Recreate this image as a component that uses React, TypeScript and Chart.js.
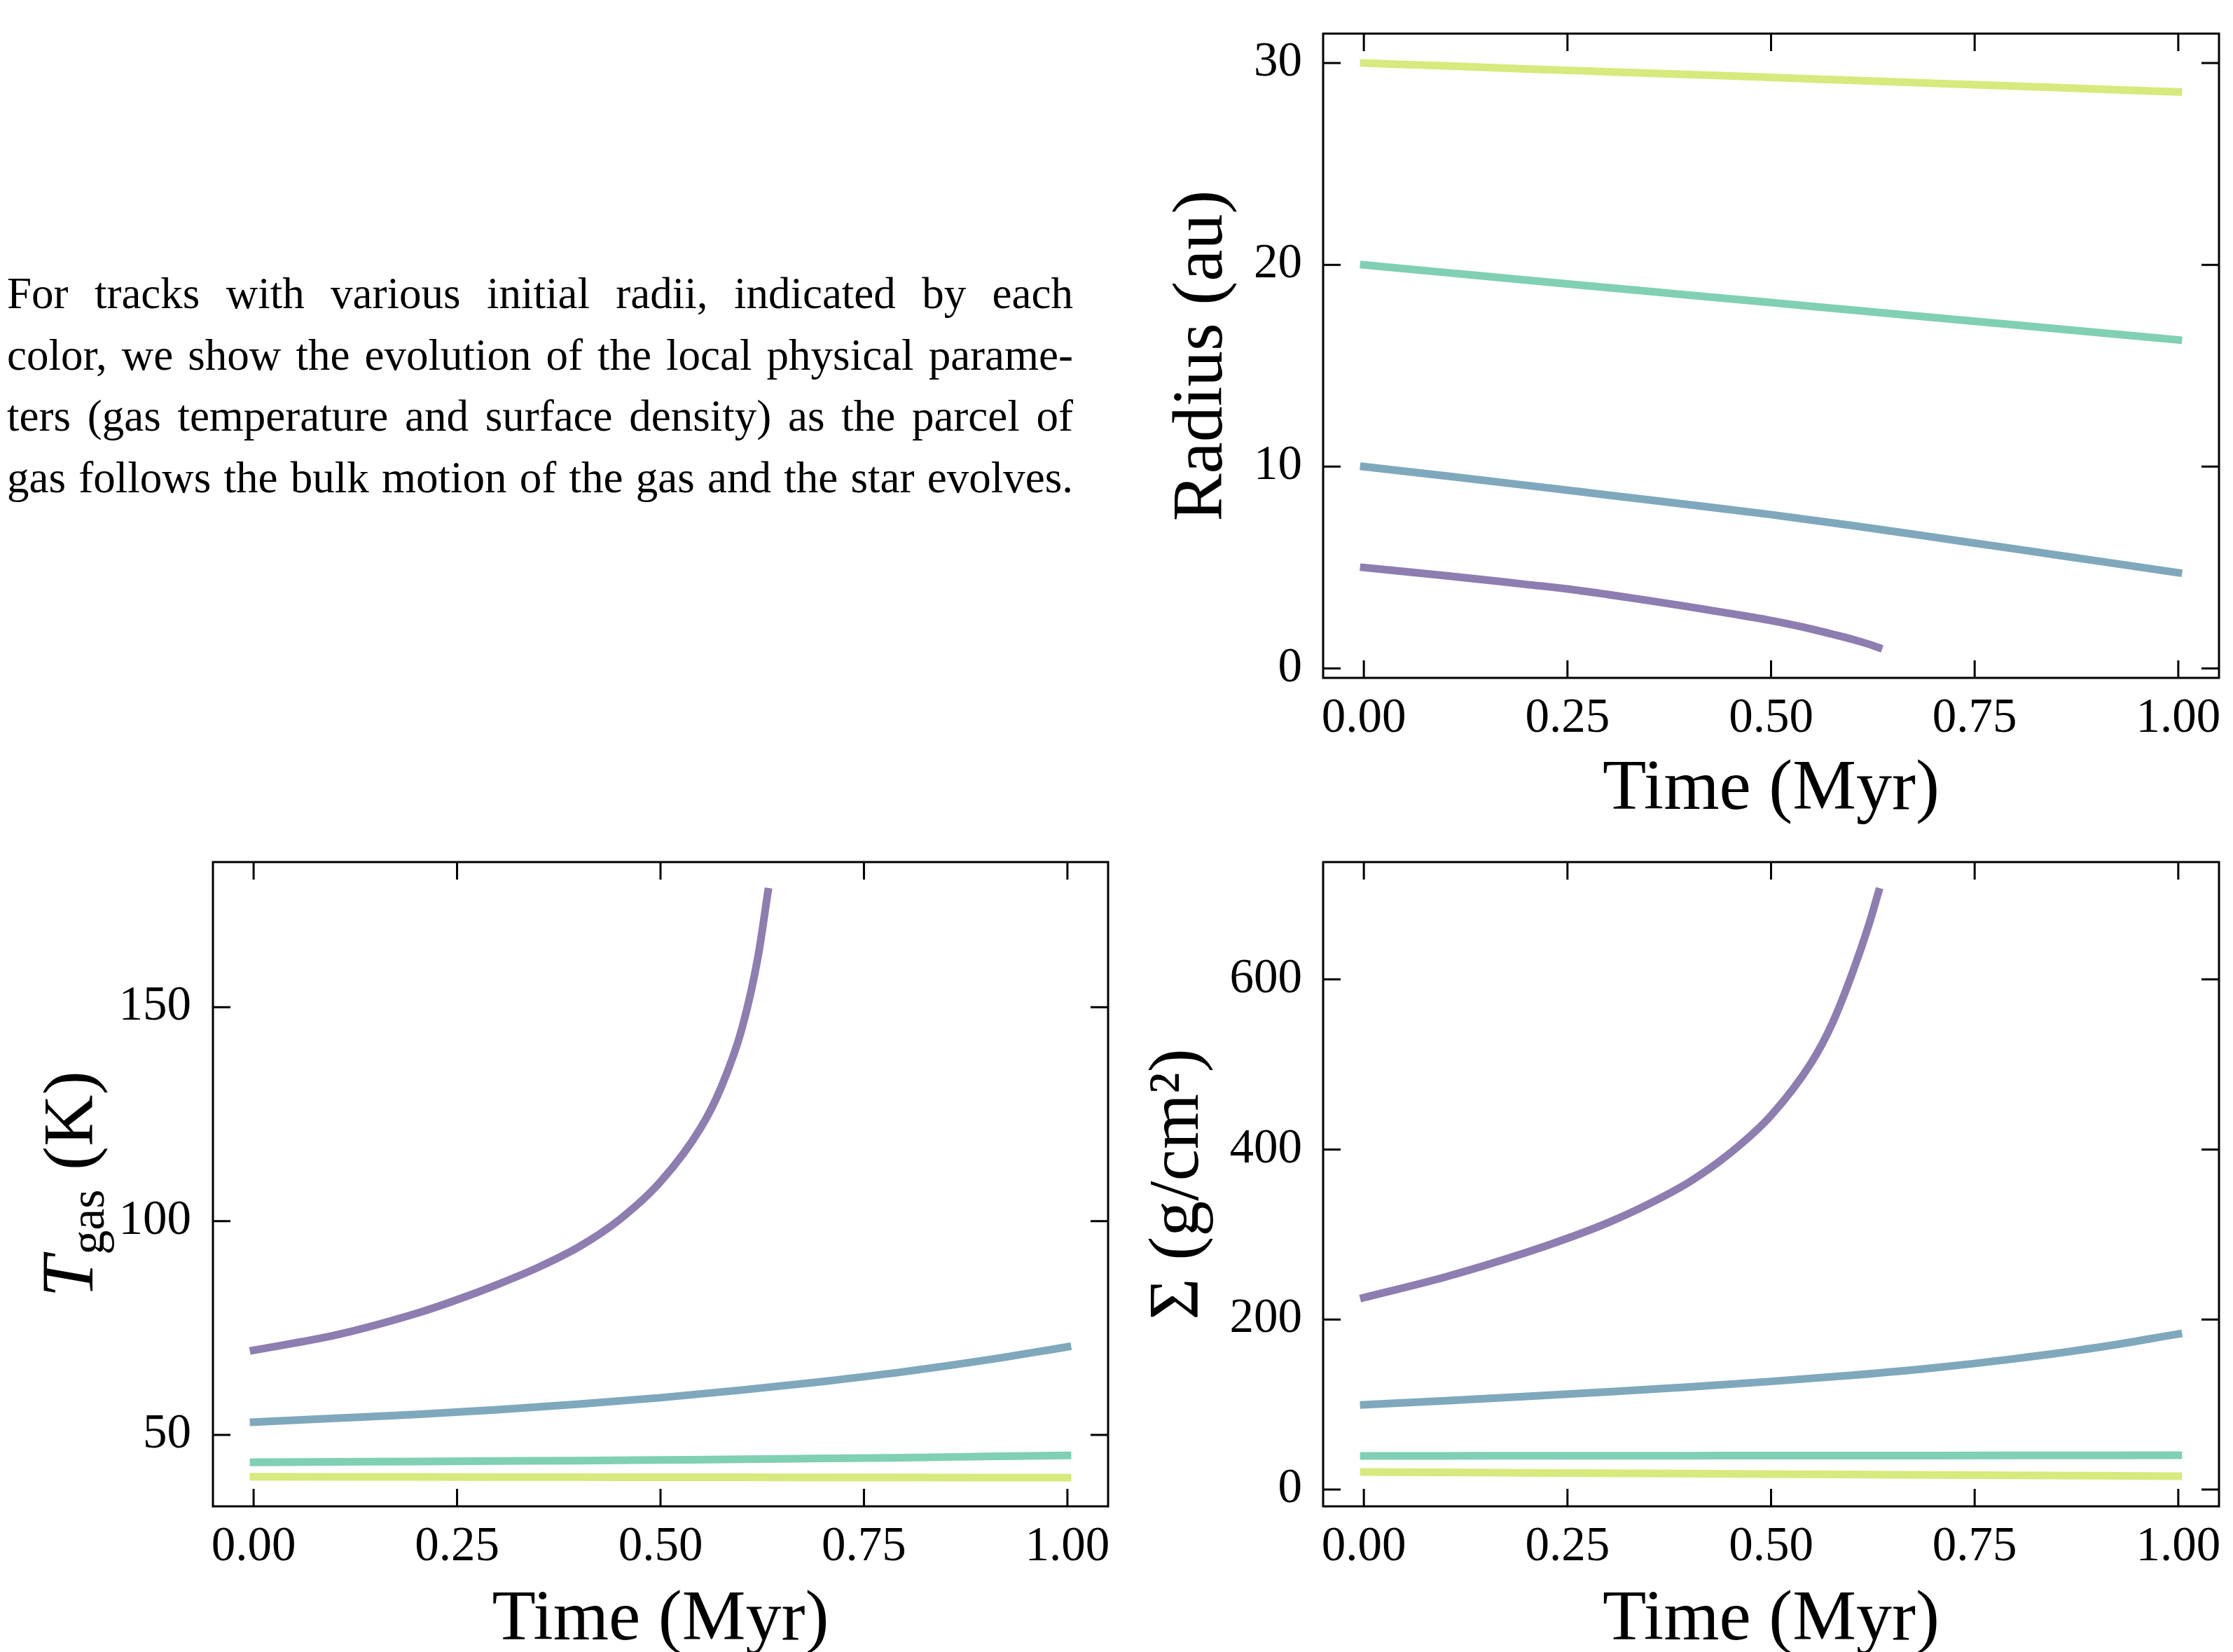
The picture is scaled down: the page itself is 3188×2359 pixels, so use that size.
import React, { useEffect, useRef } from 'react';
import { Chart, registerables } from 'chart.js';

Chart.register(...registerables);

// ---------------- data ----------------
const TIME = [0, 0.1, 0.2, 0.3, 0.4, 0.5, 0.6, 0.7, 0.8, 0.9, 1.0];
const TIME_INNER = [0, 0.1, 0.2, 0.25, 0.3, 0.35, 0.4, 0.45, 0.5, 0.55, 0.575, 0.6, 0.62, 0.632];
const X_TICKS = [0, 0.25, 0.5, 0.75, 1.0];

const RADIUS_5 = [5.0, 4.6, 4.16, 3.94, 3.66, 3.36, 3.05, 2.72, 2.37, 1.95, 1.7, 1.44, 1.2, 1.03];
const RADIUS_10 = [10.0, 9.54, 9.07, 8.59, 8.11, 7.62, 7.08, 6.5, 5.92, 5.33, 4.74];
const RADIUS_20 = [20.0, 19.62, 19.24, 18.87, 18.5, 18.13, 17.76, 17.39, 17.02, 16.65, 16.28];
const RADIUS_30 = [30.0, 29.86, 29.71, 29.57, 29.43, 29.29, 29.14, 29.0, 28.86, 28.71, 28.57];
const RADIUS_TICKS = [0, 10, 20, 30];

const TGAS_5 = [69.8, 73.3, 78.4, 81.6, 85.2, 89.2, 94.0, 100.4, 109.2, 122.0, 131.5, 145.0, 162.0, 177.0];
const TGAS_10 = [53.0, 53.9, 54.8, 55.9, 57.2, 58.7, 60.5, 62.5, 64.8, 67.5, 70.6];
const TGAS_20 = [43.6, 43.7, 43.8, 43.9, 44.0, 44.15, 44.3, 44.5, 44.7, 44.95, 45.2];
const TGAS_30 = [40.2, 40.18, 40.16, 40.14, 40.12, 40.1, 40.08, 40.06, 40.04, 40.02, 40.0];
const TGAS_TICKS = [50, 100, 150];

const SIGMA_5 = [225.7, 250.0, 279.0, 295.5, 314.0, 336.0, 362.0, 396.0, 440.0, 503.0, 548.0, 608.0, 664.0, 703.0];
const SIGMA_10 = [99.7, 104.5, 109.6, 115.0, 120.8, 127.2, 134.5, 143.2, 154.0, 167.0, 183.0];
const SIGMA_20 = [39.6, 39.7, 39.75, 39.8, 39.9, 40.0, 40.05, 40.1, 40.2, 40.3, 40.4];
const SIGMA_30 = [20.7, 20.2, 19.7, 19.2, 18.7, 18.2, 17.7, 17.2, 16.7, 16.3, 15.8];
const SIGMA_TICKS = [0, 200, 400, 600];

const TRACK_COLORS = ['#8e7db0', '#7fa8bc', '#80d0b3', '#d6ea7d'];

const PARAGRAPH_LINES = [
  'For tracks with various initial radii, indicated by each',
  'color, we show the evolution of the local physical parame-',
  'ters (gas temperature and surface density) as the parcel of',
  'gas follows the bulk motion of the gas and the star evolves.',
];

const FONT = '"Liberation Serif"';

// ---------------- helpers ----------------
const toPoints = (times: number[], values: number[]) => times.map((t, i) => ({ x: t, y: values[i] }));

const makeDatasets = (inner: number[], s10: number[], s20: number[], s30: number[]) => [
  { data: toPoints(TIME_INNER, inner), borderColor: TRACK_COLORS[0] },
  { data: toPoints(TIME, s10), borderColor: TRACK_COLORS[1] },
  { data: toPoints(TIME, s20), borderColor: TRACK_COLORS[2] },
  { data: toPoints(TIME, s30), borderColor: TRACK_COLORS[3] },
];

const frameTicksPlugin = {
  id: 'frameTicks',
  afterDatasetsDraw(chart: any) {
    const { ctx, chartArea: a, scales } = chart;
    const len = 25;
    ctx.save();
    ctx.strokeStyle = '#000';
    ctx.lineWidth = 3;
    ctx.lineCap = 'butt';
    ctx.beginPath();
    for (const t of scales.x.ticks) {
      const px = scales.x.getPixelForValue(t.value);
      ctx.moveTo(px, a.bottom);
      ctx.lineTo(px, a.bottom - len);
      ctx.moveTo(px, a.top);
      ctx.lineTo(px, a.top + len);
    }
    for (const t of scales.y.ticks) {
      const py = scales.y.getPixelForValue(t.value);
      ctx.moveTo(a.left, py);
      ctx.lineTo(a.left + len, py);
      ctx.moveTo(a.right, py);
      ctx.lineTo(a.right - len, py);
    }
    ctx.stroke();
    ctx.strokeRect(a.left, a.top, a.right - a.left, a.bottom - a.top);
    ctx.restore();
  },
};

const tgasTitlePlugin = {
  id: 'tgasTitle',
  afterDraw(chart: any) {
    const { ctx, chartArea: a } = chart;
    const cy = (a.top + a.bottom) / 2;
    const fItal = `italic 106px ${FONT}`;
    const fSub = `70px ${FONT}`;
    const fMain = `102px ${FONT}`;
    ctx.save();
    ctx.fillStyle = '#000';
    ctx.textBaseline = 'alphabetic';
    ctx.textAlign = 'left';
    ctx.font = fItal;
    const wT = ctx.measureText('T').width;
    ctx.font = fSub;
    const wSub = ctx.measureText('gas').width;
    ctx.font = fMain;
    const wRest = ctx.measureText(' (K)').width;
    const total = wT + wSub + wRest + 4;
    ctx.translate(132, cy);
    ctx.rotate(-Math.PI / 2);
    let x = -total / 2;
    ctx.font = fItal;
    ctx.fillText('T', x, 0);
    x += wT + 2;
    ctx.font = fSub;
    ctx.fillText('gas', x, 16);
    x += wSub + 2;
    ctx.font = fMain;
    ctx.fillText(' (K)', x, 0);
    ctx.restore();
  },
};

type PanelProps = {
  left: number;
  top: number;
  width: number;
  height: number;
  padTop: number;
  padRight: number;
  yWidth: number;
  xHeight: number;
  yMin: number;
  yMax: number;
  yTicks: number[];
  yTitle: string | null;
  yTickPad: number;
  datasets: any[];
  extraPlugins?: any[];
};

function Panel(p: PanelProps) {
  const ref = useRef<HTMLCanvasElement>(null);
  useEffect(() => {
    const chart = new Chart(ref.current as HTMLCanvasElement, {
      type: 'line',
      data: { datasets: p.datasets },
      options: {
        animation: false,
        responsive: false,
        maintainAspectRatio: false,
        devicePixelRatio: 1,
        layout: { padding: { top: p.padTop, right: p.padRight, left: 0, bottom: 0 }, autoPadding: false },
        plugins: { legend: { display: false }, tooltip: { enabled: false } },
        elements: {
          point: { radius: 0 },
          line: {
            borderWidth: 11,
            borderCapStyle: 'square',
            borderJoinStyle: 'round',
            cubicInterpolationMode: 'monotone',
            fill: false,
          },
        },
        scales: {
          x: {
            type: 'linear',
            min: -0.05,
            max: 1.05,
            grid: { display: false, drawTicks: false },
            border: { display: false },
            afterBuildTicks: (s: any) => {
              s.ticks = X_TICKS.map((v) => ({ value: v }));
            },
            afterFit: (s: any) => {
              s.height = p.xHeight;
              s.paddingLeft = 0;
              s.paddingRight = 0;
              s.paddingTop = 0;
              s.paddingBottom = 0;
            },
            ticks: {
              autoSkip: false,
              maxRotation: 0,
              minRotation: 0,
              padding: 17,
              color: '#000',
              font: { family: FONT, size: 69 },
              callback: (v: any) => Number(v).toFixed(2),
            },
            title: {
              display: true,
              text: 'Time (Myr)',
              color: '#000',
              padding: 0,
              font: { family: FONT, size: 102 },
            },
          },
          y: {
            type: 'linear',
            min: p.yMin,
            max: p.yMax,
            grid: { display: false, drawTicks: false },
            border: { display: false },
            afterBuildTicks: (s: any) => {
              s.ticks = p.yTicks.map((v) => ({ value: v }));
            },
            afterFit: (s: any) => {
              s.width = p.yWidth;
              s.paddingLeft = 0;
              s.paddingRight = 0;
              s.paddingTop = 0;
              s.paddingBottom = 0;
            },
            ticks: {
              autoSkip: false,
              padding: p.yTickPad,
              color: '#000',
              font: { family: FONT, size: 69 },
              callback: (v: any) => String(v),
            },
            title: {
              display: p.yTitle !== null,
              text: p.yTitle || '',
              color: '#000',
              padding: 0,
              font: { family: FONT, size: 102 },
            },
          },
        },
      } as any,
      plugins: [frameTicksPlugin, ...(p.extraPlugins || [])],
    });
    return () => chart.destroy();
  }, []);
  return (
    <canvas
      ref={ref}
      width={p.width}
      height={p.height}
      style={{ position: 'absolute', left: p.left, top: p.top, width: p.width, height: p.height }}
    />
  );
}

export default function App() {
  return (
    <div
      style={{
        position: 'absolute',
        left: 0,
        top: 0,
        width: 3188,
        height: 2359,
        background: '#fff',
        overflow: 'hidden',
      }}
    >
      <div
        style={{
          position: 'absolute',
          left: 10,
          top: 376,
          width: 1522,
          fontFamily: FONT,
          fontSize: 63,
          lineHeight: '87.6px',
          color: '#000',
        }}
      >
        {PARAGRAPH_LINES.map((line, i) => (
          <div key={i} style={{ textAlign: 'justify', textAlignLast: 'justify' as any }}>
            {line}
          </div>
        ))}
      </div>

      <Panel
        left={1656}
        top={0}
        width={1532}
        height={1189}
        padTop={48}
        padRight={20}
        yWidth={233}
        xHeight={221}
        yMin={-0.47}
        yMax={31.46}
        yTicks={RADIUS_TICKS}
        yTitle="Radius (au)"
        yTickPad={30}
        datasets={makeDatasets(RADIUS_5, RADIUS_10, RADIUS_20, RADIUS_30)}
      />
      <Panel
        left={0}
        top={1183}
        width={1610}
        height={1192}
        padTop={48}
        padRight={28}
        yWidth={304}
        xHeight={224}
        yMin={33.3}
        yMax={183.95}
        yTicks={TGAS_TICKS}
        yTitle={null}
        yTickPad={31}
        datasets={makeDatasets(TGAS_5, TGAS_10, TGAS_20, TGAS_30)}
        extraPlugins={[tgasTitlePlugin]}
      />
      <Panel
        left={1622}
        top={1183}
        width={1566}
        height={1192}
        padTop={48}
        padRight={20}
        yWidth={267}
        xHeight={224}
        yMin={-19.7}
        yMax={738}
        yTicks={SIGMA_TICKS}
        yTitle="Σ (g/cm²)"
        yTickPad={30}
        datasets={makeDatasets(SIGMA_5, SIGMA_10, SIGMA_20, SIGMA_30)}
      />
    </div>
  );
}
